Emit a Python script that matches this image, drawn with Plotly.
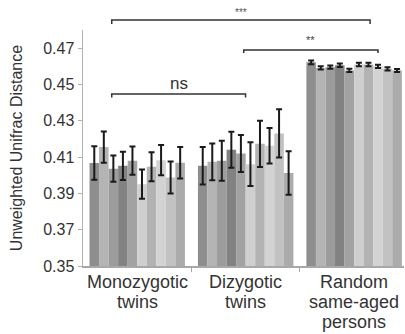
import plotly.graph_objects as go

categories = ["Monozygotic<br>twins", "Dizygotic<br>twins", "Random<br>same-aged<br>persons"]

mono = [0.4067, 0.4155, 0.4036, 0.4052, 0.4080, 0.3951, 0.4047, 0.4083, 0.3988, 0.4069]
mono_err = [0.0092, 0.0086, 0.0072, 0.0078, 0.0078, 0.0081, 0.0080, 0.0083, 0.0088, 0.0087]
dizy = [0.4052, 0.4074, 0.4080, 0.4140, 0.4120, 0.4061, 0.4173, 0.4162, 0.4230, 0.4012]
dizy_err = [0.0103, 0.0101, 0.0110, 0.0099, 0.0102, 0.0120, 0.0127, 0.0098, 0.0133, 0.0120]
rand = [0.4622, 0.4591, 0.4595, 0.4606, 0.4577, 0.4610, 0.4610, 0.4600, 0.4586, 0.4577]
rand_err = [0.0010, 0.0009, 0.0009, 0.0010, 0.0009, 0.0010, 0.0010, 0.0009, 0.0009, 0.0008]

bar_colors = ["#8e8e8e", "#b4b4b4", "#9c9c9c", "#828282", "#a2a2a2",
              "#cfcfcf", "#b3b3b3", "#d3d3d3", "#c2c2c2", "#ababab"]

y_ticks = [0.35, 0.37, 0.39, 0.41, 0.43, 0.45, 0.47]

# significance brackets: (x0, x1, label)
brackets = [(-0.235, 2.147, "***"), (0.982, 2.22, "**"), (-0.235, 0.999, "ns")]

FONT = "Liberation Sans, Arial, sans-serif"

fig = go.Figure()
for i in range(10):
    fig.add_trace(go.Bar(
        x=[0, 1, 2],
        y=[mono[i], dizy[i], rand[i]],
        error_y=dict(type="data", array=[mono_err[i], dizy_err[i], rand_err[i]],
                     color="#1a1a1a", thickness=2, width=3),
        marker=dict(color=bar_colors[i], line=dict(width=0)),
        showlegend=False,
    ))

fig.update_layout(
    width=405, height=334,
    margin=dict(l=83, r=1, t=30, b=68),
    paper_bgcolor="white", plot_bgcolor="white",
    barmode="group", bargap=0.12, bargroupgap=0,
    font=dict(family=FONT, color="#333333"),
)
fig.update_yaxes(
    range=[0.35, 0.48], tickvals=y_ticks, tickformat=".2f",
    showgrid=False, zeroline=False, showline=True, linecolor="#b0b0b0", linewidth=1.5,
    ticks="outside", ticklen=4, tickcolor="#b0b0b0",
    tickfont=dict(size=16, color="#333333"),
    title=dict(text="Unweighted Unifrac Distance", font=dict(size=16, color="#333333"), standoff=16),
)
fig.update_xaxes(
    type="linear", range=[-0.5, 2.46],
    tickvals=[0.5, 1.5], showticklabels=False,
    showgrid=False, zeroline=False, showline=True, linecolor="#a8a8a8", linewidth=2,
    ticks="outside", ticklen=4, tickcolor="#a8a8a8",
)

# category labels, one annotation per line
for ci, cat in enumerate(categories):
    for li, line in enumerate(cat.split("<br>")):
        fig.add_annotation(x=ci, xref="x", y=0, yref="paper", text=line,
                           showarrow=False, yanchor="middle", yshift=-(15.7 + 20 * li),
                           font=dict(size=18, color="#333333", family=FONT))

# brackets (paper y positions)
bracket_y = [(1.042, 1.025), (0.915, 0.903), (0.729, 0.714)]
text_y = [(1.042, 8, 10, "#555555"), (0.915, 10, 11, "#444444"), (0.729, 10, 17, "#333333")]
for (x0, x1, lab), (yl, yt), (ty, sh, fs, col) in zip(brackets, bracket_y, text_y):
    fig.add_shape(type="path", xref="x", yref="paper",
                  path=f"M {x0},{yt} L {x0},{yl} L {x1},{yl} L {x1},{yt}",
                  line=dict(color="#333333", width=1.5))
    fig.add_annotation(x=(x0 + x1) / 2, xref="x", y=ty, yref="paper", text=lab,
                       showarrow=False, yanchor="middle", yshift=sh,
                       font=dict(size=fs, color=col, family=FONT))

fig.write_html("out.html", config={"displayModeBar": False, "staticPlot": True},
               post_script="document.body.style.margin='0';")
